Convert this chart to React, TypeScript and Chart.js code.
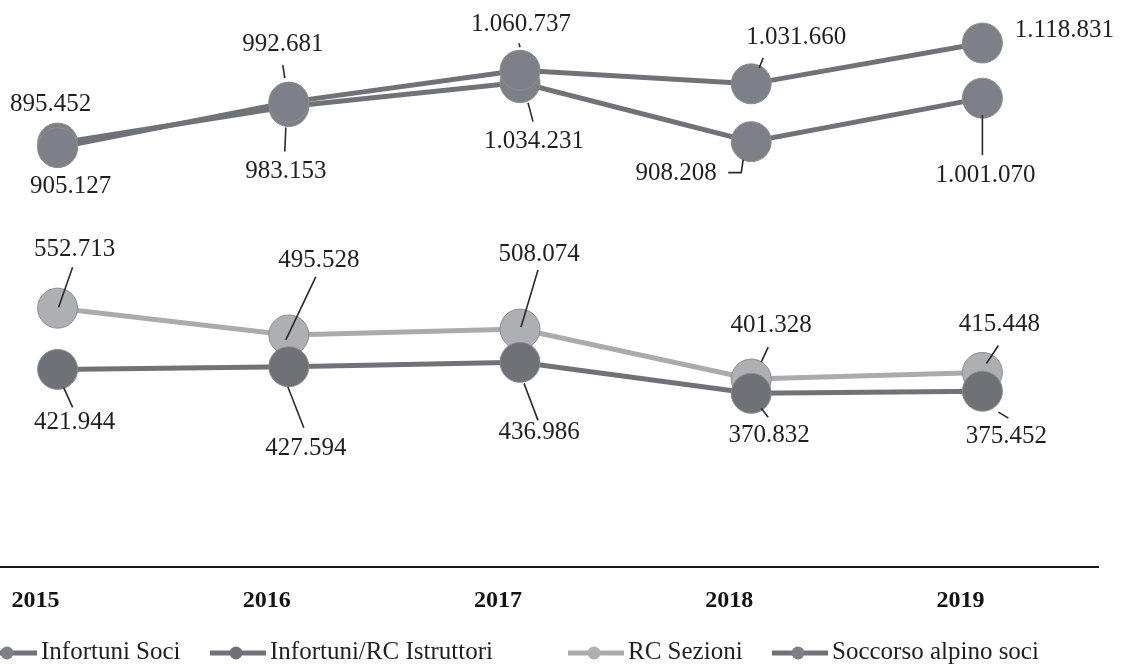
import React, { useEffect, useRef } from "react";
import { Chart, registerables } from "chart.js";

Chart.register(...registerables);

// ---- data ----
const years = ["2015", "2016", "2017", "2018", "2019"];
const infortuniSoci = [895452, 992681, 1060737, 1031660, 1118831];
const infortuniRcIstruttori = [421944, 427594, 436986, 370832, 375452];
const rcSezioni = [552713, 495528, 508074, 401328, 415448];
const soccorsoAlpinoSoci = [905127, 983153, 1034231, 908208, 1001070];
const seriesNames = [
  "Infortuni Soci",
  "Infortuni/RC Istruttori",
  "RC Sezioni",
  "Soccorso alpino soci",
];

// ---- look ----
const SERIF = "'Liberation Serif', 'Times New Roman', serif";
const DARK_LINE = "#6f7378";
const DARK_POINT = "#7d8187";
const DEEP_POINT = "#6e7277";
const LIGHT_LINE = "#a9abaf";
const LIGHT_POINT = "#adafb3";
const TEXT = "#1f1f1f";

// the plot is wider than the window; its left part runs off-screen
const SHIFT = 70;
const CANVAS_W = 1121 + SHIFT;
const CANVAS_H = 669;

type Place = { dx: number; dy: number; leader?: number[][] };

// value-label placement (text centre and leader polyline, relative to the point)
const placeInfortuniSoci: Place[] = [
  { dx: -7, dy: -43 },
  { dx: -6, dy: -58, leader: [[-6, -37], [-4, -24]] },
  { dx: 1, dy: -46, leader: [[-1, -27], [0, -23]] },
  { dx: 45, dy: -46, leader: [[12, -26], [8, -16]] },
  { dx: 82, dy: -13 },
];
const placeIstruttori: Place[] = [
  { dx: 17, dy: 53, leader: [[6, 18], [15, 38]] },
  { dx: 17, dy: 82, leader: [[-1, 20], [15, 61]] },
  { dx: 19, dy: 70, leader: [[4, 21], [18, 58]] },
  { dx: 18, dy: 42, leader: [[10, 15], [17, 24]] },
  { dx: 24, dy: 45, leader: [[16, 21], [26, 27]] },
];
const placeSezioni: Place[] = [
  { dx: 17, dy: -59, leader: [[15, -41], [1, -1]] },
  { dx: 30, dy: -74, leader: [[27, -58], [-3, 5]] },
  { dx: 19, dy: -75, leader: [[18, -59], [1, -2]] },
  { dx: 20, dy: -54, leader: [[17, -32], [10, -17]] },
  { dx: 17, dy: -48, leader: [[16, -27], [4, -9]] },
];
const placeSoccorso: Place[] = [
  { dx: 13, dy: 43 },
  { dx: -3, dy: 65, leader: [[-3, 21], [-4, 45]] },
  { dx: 14, dy: 59, leader: [[8, 20], [13, 39]] },
  { dx: -75, dy: 32, leader: [[-23, 31], [-10, 31], [-8, 18]] },
  { dx: 3, dy: 77, leader: [[0, 17], [0, 57]] },
];

// legend item starts (page x)
const legendStarts = [-19, 210, 568, 772];

const fmt = (v: number) =>
  String(v).replace(/\B(?=(\d{3})+(?!\d))/g, ".");

const valueLabels = {
  id: "valueLabels",
  afterDatasetsDraw(chart: any) {
    const ctx = chart.ctx;
    chart.data.datasets.forEach((ds: any, i: number) => {
      const meta = chart.getDatasetMeta(i);
      const places: Place[] = ds.places;
      meta.data.forEach((pt: any, j: number) => {
        const p = places[j];
        const x = pt.x;
        const y = pt.y;
        ctx.save();
        if (p.leader) {
          ctx.strokeStyle = "#2a2a2a";
          ctx.lineWidth = 1.6;
          ctx.beginPath();
          p.leader.forEach((q, k) => {
            if (k === 0) ctx.moveTo(x + q[0], y + q[1]);
            else ctx.lineTo(x + q[0], y + q[1]);
          });
          ctx.stroke();
        }
        ctx.font = `25px ${SERIF}`;
        ctx.fillStyle = TEXT;
        ctx.textAlign = "center";
        ctx.textBaseline = "middle";
        ctx.fillText(fmt(ds.data[j]), x + p.dx, y + p.dy);
        ctx.restore();
      });
    });
  },
};

const bottomLegend = {
  id: "bottomLegend",
  afterDraw(chart: any) {
    const ctx = chart.ctx;
    const y = 652;
    chart.data.datasets.forEach((ds: any, i: number) => {
      const x0 = legendStarts[i] + SHIFT;
      ctx.save();
      ctx.strokeStyle = ds.borderColor;
      ctx.lineWidth = 5;
      ctx.beginPath();
      ctx.moveTo(x0, y + 1);
      ctx.lineTo(x0 + 56, y + 1);
      ctx.stroke();
      ctx.fillStyle = ds.pointBackgroundColor;
      ctx.beginPath();
      ctx.arc(x0 + 26, y + 1, 6.5, 0, Math.PI * 2);
      ctx.fill();
      ctx.font = `25px ${SERIF}`;
      ctx.fillStyle = TEXT;
      ctx.textAlign = "left";
      ctx.textBaseline = "middle";
      ctx.fillText(seriesNames[i], x0 + 60, y);
      ctx.restore();
    });
  },
};

function makeDataset(
  label: string,
  data: number[],
  line: string,
  point: string,
  places: Place[]
) {
  return {
    label,
    data,
    places,
    borderColor: line,
    borderWidth: 5,
    pointRadius: 20,
    pointHoverRadius: 20,
    pointBackgroundColor: point,
    pointBorderColor: "#8a8d92",
    pointBorderWidth: 1,
    tension: 0,
    fill: false,
  };
}

export default function App() {
  const canvasRef = useRef<HTMLCanvasElement | null>(null);

  useEffect(() => {
    if (!canvasRef.current) return;
    const chart = new Chart(canvasRef.current, {
      type: "line",
      data: {
        labels: years,
        datasets: [
          makeDataset(seriesNames[0], infortuniSoci, DARK_LINE, DARK_POINT, placeInfortuniSoci),
          makeDataset(seriesNames[1], infortuniRcIstruttori, DARK_LINE, DEEP_POINT, placeIstruttori),
          makeDataset(seriesNames[2], rcSezioni, LIGHT_LINE, LIGHT_POINT, placeSezioni),
          makeDataset(seriesNames[3], soccorsoAlpinoSoci, DARK_LINE, DARK_POINT, placeSoccorso),
        ] as any,
      },
      options: {
        animation: false,
        responsive: true,
        maintainAspectRatio: false,
        layout: {
          autoPadding: false,
          padding: { left: 12, right: 23, top: 5, bottom: 0 },
        },
        plugins: {
          legend: { display: false },
          tooltip: { enabled: false },
        },
        scales: {
          x: {
            offset: true,
            grid: { display: true, color: "rgba(0,0,0,0)", drawTicks: false },
            border: { display: true, color: "#1a1a1a", width: 2 },
            ticks: {
              color: "#111",
              padding: 19,
              labelOffset: -22,
              font: { family: SERIF, size: 24, weight: "bold" },
            },
            afterFit: (scale: any) => {
              scale.height = 102;
            },
          },
          y: {
            display: false,
            min: 0,
            max: 1200000,
          },
        },
      },
      plugins: [valueLabels, bottomLegend],
    });
    return () => chart.destroy();
  }, []);

  return (
    <div
      style={{
        position: "fixed",
        left: 0,
        top: 0,
        width: 1121,
        height: 669,
        overflow: "hidden",
        background: "#fff",
      }}
    >
      <div
        style={{
          position: "absolute",
          left: -SHIFT,
          top: 0,
          width: CANVAS_W,
          height: CANVAS_H,
        }}
      >
        <canvas ref={canvasRef} style={{ display: "block" }} />
      </div>
    </div>
  );
}
